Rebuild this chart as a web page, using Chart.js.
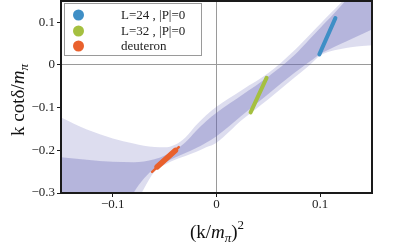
<!DOCTYPE html>
<html>
<head>
<meta charset="utf-8">
<script src="https://cdn.jsdelivr.net/npm/chart.js@4.4.1/dist/chart.umd.min.js"></script>
<style>
  html, body { margin: 0; padding: 0; background: #fff; }
  #wrap { width: 395px; height: 245px; }
</style>
</head>
<body>
<div id="wrap"><canvas id="mychart"></canvas></div>
<script>
var bandX      = [-0.15, -0.125, -0.1, -0.08, -0.07, -0.06, -0.05, -0.04, -0.03, -0.02, -0.01, 0, 0.025, 0.05, 0.075, 0.09, 0.1, 0.11, 0.125, 0.15];
// wide (light) band
var outerUpper = [-0.123, -0.151, -0.172, -0.184, -0.189, -0.192, -0.193, -0.187, -0.170, -0.142, -0.118, -0.098, -0.058, -0.019, 0.034, 0.071, 0.096, 0.121, 0.158, 0.220];
var outerLower = [-0.75, -0.60, -0.45, -0.34, -0.29, -0.25, -0.234, -0.222, -0.213, -0.204, -0.193, -0.182, -0.128, -0.080, -0.030, 0.000, 0.022, 0.032, 0.040, 0.046];
// narrow (dark) band
var innerUpper = [-0.216, -0.222, -0.227, -0.228, -0.226, -0.221, -0.212, -0.199, -0.181, -0.155, -0.132, -0.112, -0.070, -0.027, 0.023, 0.061, 0.087, 0.112, 0.152, 0.215];
var innerLower = [-0.70, -0.55, -0.40, -0.30, -0.266, -0.243, -0.229, -0.217, -0.206, -0.195, -0.182, -0.167, -0.117, -0.068, -0.019, 0.008, 0.026, 0.038, 0.055, 0.083];

// lattice results, each one a short segment (start, end)
var seriesNames = ['L=24 , |P|=0', 'L=32 , |P|=0', 'deuteron'];
var seriesColors = ['#3f8fc6', '#a5c040', '#e9612d'];
var l24X = [0.0992, 0.1147];   var l24Y = [0.025, 0.110];
var l32X = [0.0329, 0.0483];   var l32Y = [-0.111, -0.030];
var deutX = [-0.0621, -0.0364]; var deutY = [-0.2505, -0.1923];
var deutCoreX = [-0.0573, -0.0396]; var deutCoreY = [-0.2388, -0.2000];

var xTicks = [-0.1, 0, 0.1];
var yTicks = [0.1, 0, -0.1, -0.2, -0.3];

function pts(xs, ys) {
  return xs.map(function (x, i) { return { x: x, y: ys[i] }; });
}
function fmt(v) {
  if (Math.abs(v) < 1e-9) return '0';
  return (v < 0 ? '\u2212' : '') + Math.abs(v).toFixed(1);
}

var serif = "'Liberation Serif', 'DejaVu Serif', serif";
var bandRGB = '100,100,180';

function band(data, fill, alpha) {
  return {
    data: data, fill: fill, showLine: true, pointRadius: 0, borderWidth: 0,
    borderColor: 'transparent', backgroundColor: 'rgba(' + bandRGB + ',' + alpha + ')',
    cubicInterpolationMode: 'monotone'
  };
}
function seg(label, data, color, width) {
  return {
    label: label, data: data, showLine: true, pointRadius: 0,
    borderColor: color, backgroundColor: color, borderWidth: width,
    borderCapStyle: 'round', fill: false
  };
}

var frameAndText = {
  id: 'frameAndText',
  afterDraw: function (chart) {
    var ctx = chart.ctx, a = chart.chartArea;
    ctx.save();
    // frame
    ctx.strokeStyle = '#1a1a1a';
    ctx.lineWidth = 2;
    ctx.strokeRect(a.left, a.top, a.right - a.left, a.bottom - a.top);

    // legend
    ctx.fillStyle = '#fff';
    ctx.fillRect(64.5, 3.5, 137, 52);
    ctx.strokeStyle = '#9a9a9a';
    ctx.lineWidth = 1;
    ctx.strokeRect(64.5, 3.5, 137, 52);
    var rows = [15, 31, 46];
    ctx.font = '13px ' + serif;
    ctx.textBaseline = 'middle';
    ctx.textAlign = 'left';
    for (var i = 0; i < seriesNames.length; i++) {
      ctx.beginPath();
      ctx.arc(78.5, rows[i], 5.5, 0, Math.PI * 2);
      ctx.fillStyle = seriesColors[i];
      ctx.fill();
      ctx.fillStyle = '#222';
      ctx.fillText(seriesNames[i], 121, rows[i] + 0.5);
    }

    // axis titles
    function mixed(parts, cx, cy) {
      var w = 0;
      parts.forEach(function (p) { ctx.font = p.f; w += ctx.measureText(p.t).width; });
      var x = cx - w / 2;
      parts.forEach(function (p) {
        ctx.font = p.f;
        ctx.fillText(p.t, x, cy + (p.dy || 0));
        x += ctx.measureText(p.t).width;
      });
    }
    ctx.fillStyle = '#111';
    ctx.textBaseline = 'alphabetic';
    ctx.save();
    ctx.translate(24, 100);
    ctx.rotate(-Math.PI / 2);
    mixed([
      { t: 'k cot\u03b4/', f: '19px ' + serif },
      { t: 'm', f: 'italic 19px ' + serif },
      { t: '\u03c0', f: 'italic 13px ' + serif, dy: 4 }
    ], 0, 0);
    ctx.restore();
    mixed([
      { t: '(k/', f: '19px ' + serif },
      { t: 'm', f: 'italic 19px ' + serif },
      { t: '\u03c0', f: 'italic 13px ' + serif, dy: 4 },
      { t: ')', f: '19px ' + serif },
      { t: '2', f: '13px ' + serif, dy: -9 }
    ], 217, 238);
    ctx.restore();
  }
};

var ctx = document.getElementById('mychart');
var myChart = new Chart(ctx, {
  type: 'scatter',
  data: {
    datasets: [
      seg(seriesNames[0], pts(l24X, l24Y), seriesColors[0], 4),
      seg(seriesNames[1], pts(l32X, l32Y), seriesColors[1], 4),
      seg(seriesNames[2], pts(deutX, deutY), seriesColors[2], 2.5),
      seg('', pts(deutCoreX, deutCoreY), seriesColors[2], 5.5),
      band(pts(bandX, innerUpper), '+1', 0.32),
      band(pts(bandX, innerLower), false, 0),
      band(pts(bandX, outerUpper), '+1', 0.22),
      band(pts(bandX, outerLower), false, 0)
    ]
  },
  options: {
    responsive: true,
    maintainAspectRatio: false,
    animation: false,
    layout: { padding: { left: 0, top: 1, right: 23, bottom: 0 } },
    plugins: { legend: { display: false }, tooltip: { enabled: false } },
    scales: {
      x: {
        type: 'linear', min: -0.15, max: 0.15,
        afterBuildTicks: function (s) { s.ticks = xTicks.map(function (v) { return { value: v }; }); },
        afterFit: function (s) { s.height = 52; s.paddingLeft = 0; s.paddingRight = 0; },
        border: { display: false },
        grid: {
          color: function (c) { return c.tick && Math.abs(c.tick.value) < 1e-9 ? '#9a9a9a' : 'transparent'; },
          tickColor: '#1a1a1a', tickLength: 4, lineWidth: 1
        },
        ticks: { font: { family: serif, size: 13 }, color: '#222', padding: 0, maxRotation: 0,
          callback: function (v) { return fmt(v); } }
      },
      y: {
        type: 'linear', min: -0.3, max: 0.15,
        afterBuildTicks: function (s) { s.ticks = yTicks.map(function (v) { return { value: v }; }); },
        afterFit: function (s) { s.width = 61; s.paddingTop = 0; s.paddingBottom = 0; },
        border: { display: false },
        grid: {
          color: function (c) { return c.tick && Math.abs(c.tick.value) < 1e-9 ? '#9a9a9a' : 'transparent'; },
          tickColor: '#1a1a1a', tickLength: 4, lineWidth: 1
        },
        ticks: { font: { family: serif, size: 13 }, color: '#222', padding: 2,
          callback: function (v) { return fmt(v); } }
      }
    }
  },
  plugins: [frameAndText]
});
</script>
</body>
</html>
